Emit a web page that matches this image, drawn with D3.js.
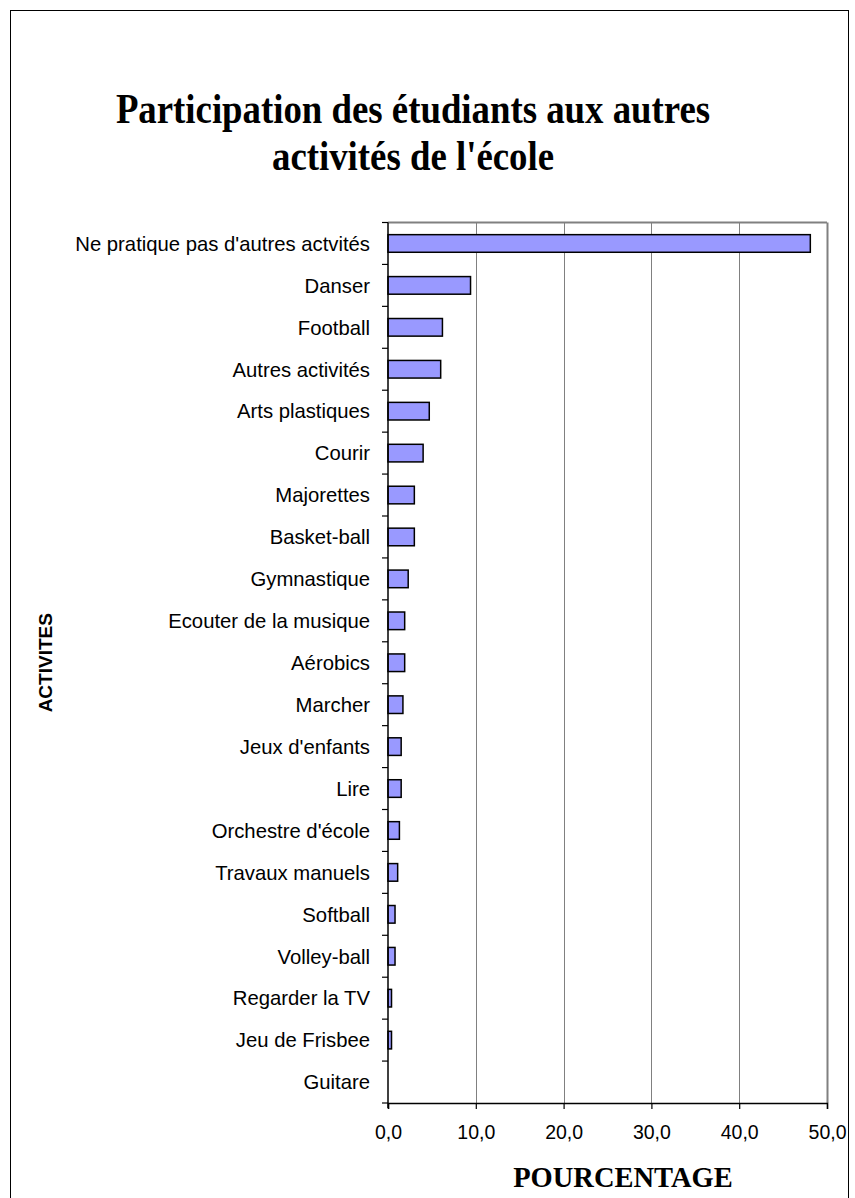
<!DOCTYPE html>
<html>
<head>
<meta charset="utf-8">
<script src="https://cdn.jsdelivr.net/npm/d3@7"></script>
<style>
  html, body { margin: 0; padding: 0; background: #fff; }
  svg { display: block; }
</style>
</head>
<body>
<svg id="chart" width="855" height="1198"></svg>
<script>
// Activities, top to bottom
const categories = [
  "Ne pratique pas d'autres actvités",
  "Danser",
  "Football",
  "Autres activités",
  "Arts plastiques",
  "Courir",
  "Majorettes",
  "Basket-ball",
  "Gymnastique",
  "Ecouter de la musique",
  "Aérobics",
  "Marcher",
  "Jeux d'enfants",
  "Lire",
  "Orchestre d'école",
  "Travaux manuels",
  "Softball",
  "Volley-ball",
  "Regarder la TV",
  "Jeu de Frisbee",
  "Guitare"
];

// Percentage of students per activity
const percentages = [
  48.1, 9.4, 6.2, 6.0, 4.7, 4.0, 3.0, 3.0, 2.3, 1.9,
  1.9, 1.7, 1.5, 1.5, 1.3, 1.1, 0.8, 0.8, 0.4, 0.4, 0.0
];

const xTicks = [0, 10, 20, 30, 40, 50];

const titleLines = ["Participation des étudiants aux autres", "activités de l'école"];
const xTitle = "POURCENTAGE";
const yTitle = "ACTIVITES";

const svg = d3.select("#chart");

// Outer frame
svg.append("rect")
  .attr("x", 10.5).attr("y", 10.5)
  .attr("width", 838).attr("height", 1210)
  .attr("fill", "none").attr("stroke", "#000").attr("stroke-width", 1);

const plot = { left: 388, right: 827, top: 222.5, bottom: 1103 };

const x = d3.scaleLinear().domain([0, 50]).range([plot.left, plot.right]);
const y = d3.scaleBand().domain(categories).range([plot.top, plot.bottom]).paddingInner(0.58).paddingOuter(0.29);

// Vertical grid lines and top/right plot border
const gridColor = "#808080";
svg.append("g")
  .selectAll("line")
  .data(xTicks.filter(t => t > 0))
  .join("line")
  .attr("x1", d => Math.round(x(d)) + 0.5).attr("x2", d => Math.round(x(d)) + 0.5)
  .attr("y1", plot.top).attr("y2", plot.bottom)
  .attr("stroke", gridColor).attr("stroke-width", d => d === 50 ? 2 : 1);
svg.append("line")
  .attr("x1", plot.left).attr("x2", plot.right)
  .attr("y1", plot.top).attr("y2", plot.top)
  .attr("stroke", gridColor).attr("stroke-width", 2);

// Bars
svg.append("g")
  .selectAll("rect")
  .data(categories.map((c, i) => ({ c, v: percentages[i] })).filter(d => d.v > 0))
  .join("rect")
  .attr("x", x(0))
  .attr("y", d => y(d.c))
  .attr("width", d => x(d.v) - x(0))
  .attr("height", y.bandwidth())
  .attr("fill", "#9999FF")
  .attr("stroke", "#000")
  .attr("stroke-width", 1.5);

// Category axis: ticks sit between categories
const yAxis = svg.append("g").attr("transform", `translate(${plot.left},0)`);
yAxis.append("line")
  .attr("x1", 0).attr("x2", 0).attr("y1", plot.top).attr("y2", plot.bottom + 5)
  .attr("stroke", "#000").attr("stroke-width", 1.5);
const step = (plot.bottom - plot.top) / categories.length;
yAxis.selectAll("line.tick")
  .data(d3.range(categories.length + 1))
  .join("line").attr("class", "tick")
  .attr("x1", -6).attr("x2", 0)
  .attr("y1", i => plot.top + i * step).attr("y2", i => plot.top + i * step)
  .attr("stroke", "#000").attr("stroke-width", 1.2);
yAxis.selectAll("text")
  .data(categories)
  .join("text")
  .attr("x", -18)
  .attr("y", d => y(d) + y.bandwidth() / 2)
  .attr("dy", "0.36em")
  .attr("text-anchor", "end")
  .attr("font-family", "'Liberation Sans', Arial, sans-serif")
  .attr("font-size", 20.3)
  .attr("fill", "#000")
  .text(d => d);

// Value axis
const xAxis = svg.append("g").attr("transform", `translate(0,${plot.bottom})`)
  .call(d3.axisBottom(x).tickValues(xTicks).tickSize(6).tickFormat(d => d3.format(".1f")(d).replace(".", ",")));
xAxis.select(".domain").attr("stroke", "#000").attr("stroke-width", 1.5);
xAxis.selectAll(".tick line").attr("stroke", "#000").attr("stroke-width", 1.2);
xAxis.selectAll(".tick text")
  .attr("y", 22)
  .attr("dy", "0.71em")
  .attr("font-family", "'Liberation Sans', Arial, sans-serif")
  .attr("font-size", 19.5)
  .attr("fill", "#000");

// Titles
const title = svg.append("g")
  .attr("font-family", "'Liberation Serif', 'Times New Roman', serif")
  .attr("font-weight", "bold")
  .attr("font-size", 37)
  .attr("text-anchor", "middle");
title.selectAll("text")
  .data(titleLines)
  .join("text")
  .attr("transform", (d, i) => `translate(413,${[123, 170][i]}) scale(0.995,1.15)`)
  .text(d => d);

svg.append("text")
  .attr("x", 623).attr("y", 1187)
  .attr("text-anchor", "middle")
  .attr("font-family", "'Liberation Serif', 'Times New Roman', serif")
  .attr("font-weight", "bold")
  .attr("font-size", 28.5)
  .text(xTitle);

svg.append("text")
  .attr("transform", `translate(52,${(plot.top + plot.bottom) / 2}) rotate(-90)`)
  .attr("text-anchor", "middle")
  .attr("font-family", "'Liberation Sans', Arial, sans-serif")
  .attr("font-weight", "bold")
  .attr("font-size", 19)
  .text(yTitle);
</script>
</body>
</html>
